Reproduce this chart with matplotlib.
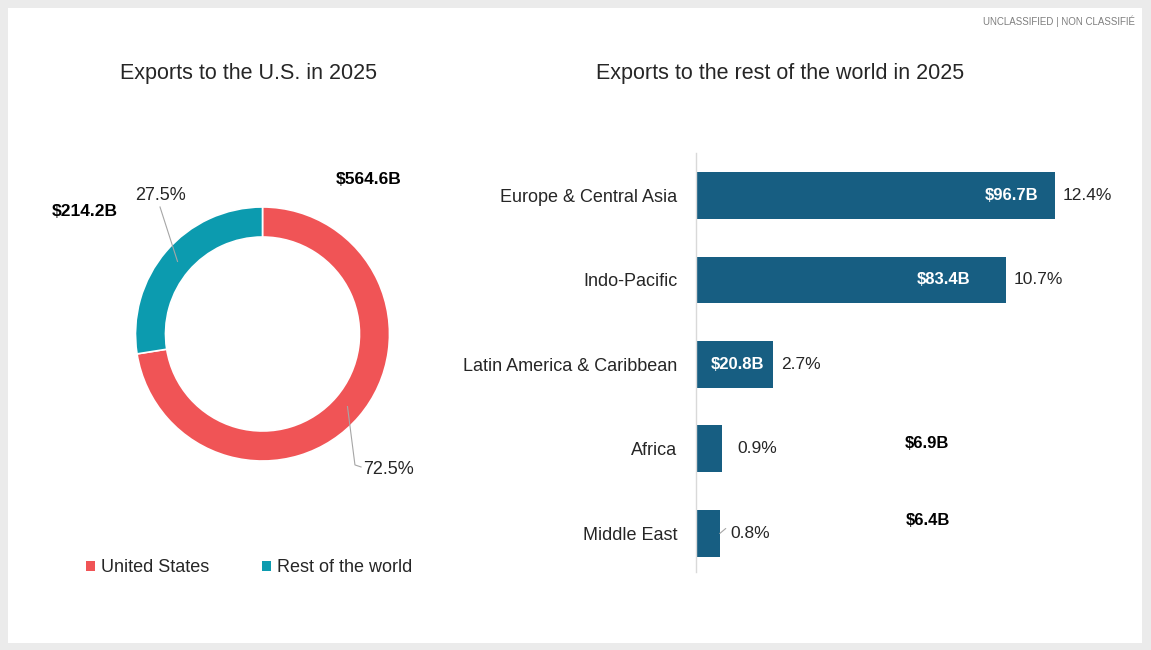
import numpy as np
import matplotlib
matplotlib.use("Agg")
import matplotlib.pyplot as plt
from matplotlib.patches import Rectangle, Patch

plt.rcParams['font.family'] = ['Liberation Sans', 'DejaVu Sans']

# ---------------- data ----------------
donut_labels = ["United States", "Rest of the world"]
donut_values = [564.6, 214.2]          # $B
donut_pct = ["72.5%", "27.5%"]
donut_val_text = ["$564.6B", "$214.2B"]

regions = ["Europe & Central Asia", "Indo-Pacific", "Latin America & Caribbean",
           "Africa", "Middle East"]
region_values = [96.7, 83.4, 20.8, 6.9, 6.4]   # $B
region_pct = [12.4, 10.7, 2.7, 0.9, 0.8]

# ---------------- style ----------------
RED = "#F05456"
TEAL = "#0C9BAF"
BAR = "#175E82"
TXT = "#262626"
GRAY = "#A6A6A6"

W, H = 1151, 650
fig = plt.figure(figsize=(W / 100, H / 100), dpi=100, facecolor="#EBEBEB")
fig.patches.append(Rectangle((8 / W, 7 / H), (1142 - 8) / W, (643 - 8) / H,
                             transform=fig.transFigure, facecolor="white",
                             edgecolor="none", zorder=-10))

fig.text(1135 / W, 1 - 21 / H, "UNCLASSIFIED | NON CLASSIFIÉ", ha="right", va="center",
         fontsize=7, color="#7F7F7F",
         family=['Liberation Sans Narrow', 'Liberation Sans', 'DejaVu Sans'])

# titles
fig.text(248.5 / W, 1 - 73.5 / H, "Exports to the U.S. in 2025", ha="center", va="center",
         fontsize=15.5, color=TXT)
fig.text(780.5 / W, 1 - 73.5 / H, "Exports to the rest of the world in 2025", ha="center",
         va="center", fontsize=15.5, color=TXT)

# ---------------- donut ----------------
cx, cy, half = 262.5, 334, 150
R = 127.0
axd = fig.add_axes([(cx - half) / W, (H - cy - half) / H, 2 * half / W, 2 * half / H])
axd.set_facecolor("none")
ring_w = 30 / R
wedges, _ = axd.pie(donut_values, colors=[RED, TEAL], startangle=90, counterclock=False,
                    radius=1, wedgeprops=dict(width=ring_w, edgecolor="white", linewidth=1.2))
lim = half / R
axd.set_xlim(-lim, lim)
axd.set_ylim(-lim, lim)
axd.set_aspect("equal")
axd.axis("off")

tot = sum(donut_values)
mid_r = 1 - ring_w / 2 - 0.002
angles = []
start = 90.0
for v in donut_values:
    sweep = 360.0 * v / tot
    angles.append(np.deg2rad(start - sweep / 2))
    start -= sweep

# US leader (elbow) and label
a0 = angles[0]
p0 = (mid_r * np.cos(a0), mid_r * np.sin(a0))
axd.plot([p0[0], 0.728, 0.776], [p0[1], -1.031, -1.047], color=GRAY, lw=0.8,
         clip_on=False, zorder=3)
axd.text(0.791, -1.063, donut_pct[0], ha="left", va="center", fontsize=13, color=TXT,
         clip_on=False)
axd.text(0.839, 1.214, donut_val_text[0], ha="center", va="center", fontsize=12.5,
         fontweight="bold", color="black", clip_on=False)

# Rest of world leader and label
a1 = angles[1]
p1 = (mid_r * np.cos(a1), mid_r * np.sin(a1))
axd.plot([p1[0], -0.807], [p1[1], 1.0], color=GRAY, lw=0.8, clip_on=False, zorder=3)
axd.text(-0.807, 1.094, donut_pct[1], ha="center", va="center", fontsize=13, color=TXT,
         clip_on=False)
axd.text(-1.40, 0.961, donut_val_text[1], ha="center", va="center", fontsize=12.5,
         fontweight="bold", color="black", clip_on=False)

# legend
handles = [Patch(facecolor=RED, edgecolor="none"), Patch(facecolor=TEAL, edgecolor="none")]
fig.legend(handles, donut_labels, loc="center", bbox_to_anchor=(249 / W, 1 - 568 / H),
           ncol=2, frameon=False, fontsize=13, handlelength=0.5, handleheight=0.5,
           handletextpad=0.35, columnspacing=2.9, labelcolor=TXT)

# ---------------- bars ----------------
x0, x1 = 696, 1100
ytop, ybot = 153, 572
scale = 359 / 96.7
axb = fig.add_axes([x0 / W, (H - ybot) / H, (x1 - x0) / W, (ybot - ytop) / H])
axb.set_facecolor("none")
ypos = np.arange(len(regions))
axb.barh(ypos, region_values, height=0.556, color=BAR)
axb.set_xlim(0, (x1 - x0) / scale)
axb.set_ylim(4 + 0.456, -0.503)
axb.set_yticks(ypos)
axb.set_yticklabels(regions, fontsize=13, color=TXT)
axb.tick_params(axis="y", length=0, pad=13.5)
axb.set_xticks([])
for s in ["top", "right", "bottom"]:
    axb.spines[s].set_visible(False)
axb.spines["left"].set_color("#D9D9D9")
axb.spines["left"].set_linewidth(1)

pt = 72 / 100  # points per pixel
# percent labels offsets (px)
pct_off = [8, 8, 8, 16, 11]
for i, (v, p) in enumerate(zip(region_values, region_pct)):
    axb.annotate(f"{p:.1f}%", xy=(v, i), xytext=(pct_off[i] * pt, 0),
                 textcoords="offset points", ha="left", va="center", fontsize=12.5,
                 color=TXT)
# tiny leader for Middle East
axb.annotate("", xy=(region_values[4], 4.0), xytext=(6 * pt, 5 * pt),
             textcoords="offset points",
             arrowprops=dict(arrowstyle="-", color=GRAY, lw=0.8, shrinkA=0, shrinkB=0))

# value labels inside bars (right-aligned offsets in px)
in_off = [-17, -35, -9]
for i in range(3):
    axb.annotate(f"${region_values[i]:.1f}B", xy=(region_values[i], i),
                 xytext=(in_off[i] * pt, 0), textcoords="offset points", ha="right",
                 va="center", fontsize=12, fontweight="bold", color="white")
# value labels displaced outside for the small bars
out_off = {3: (205, 5.5), 4: (208, 12.5)}
for i, (dx, dy) in out_off.items():
    axb.annotate(f"${region_values[i]:.1f}B", xy=(region_values[i], i),
                 xytext=(dx * pt, dy * pt), textcoords="offset points", ha="center",
                 va="center", fontsize=12, fontweight="bold", color="black")

fig.savefig("out.png", dpi=100, facecolor=fig.get_facecolor())
